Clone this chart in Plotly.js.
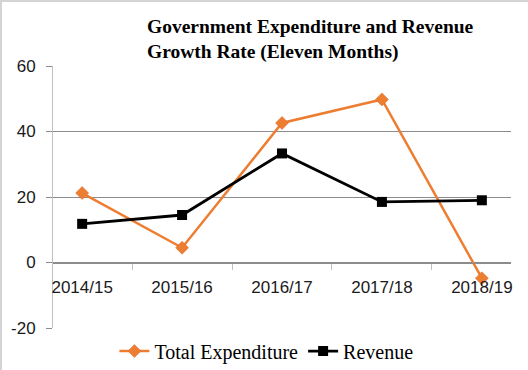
<!DOCTYPE html>
<html>
<head>
<meta charset="utf-8">
<script src="https://cdn.plot.ly/plotly-3.0.1.min.js"></script>
<style>
html, body { margin: 0; padding: 0; background: #fff; }
#wrap { width: 528px; height: 370px; box-sizing: border-box; border-left: 2px solid #d4d4d4; border-top: 2px solid #d4d4d4; overflow: hidden; position: relative; }
#chart { width: 528px; height: 370px; position: absolute; left: -2px; top: -2px; }
</style>
</head>
<body>
<div id="wrap"><div id="chart"></div></div>
<script>
const categories = ['2014/15', '2015/16', '2016/17', '2017/18', '2018/19'];
const totalExpenditure = [21.2, 4.5, 42.6, 49.8, -4.8];
const revenue = [11.8, 14.5, 33.3, 18.5, 19.0];
const yTicks = [-20, 0, 20, 40, 60];
const yTickLabels = ['-20', '0', '20', '40', '60'];

const traces = [
  {
    x: categories, y: totalExpenditure, name: 'Total Expenditure',
    type: 'scatter', mode: 'lines+markers',
    line: { color: '#ED7D31', width: 2.5 },
    marker: { symbol: 'diamond', size: 10, color: '#ED7D31', line: { color: '#D9682A', width: 0.5 } }
  },
  {
    x: categories, y: revenue, name: 'Revenue',
    type: 'scatter', mode: 'lines+markers',
    line: { color: '#000000', width: 2.8 },
    marker: { symbol: 'square', size: 10, color: '#000000' }
  }
];

const layout = {
  width: 528, height: 370,
  margin: { l: 53, r: 17, t: 66, b: 42, pad: 0, autoexpand: false },
  paper_bgcolor: 'rgba(0,0,0,0)', plot_bgcolor: 'rgba(0,0,0,0)',
  showlegend: true,
  title: {
    text: '<b>Government Expenditure and Revenue<br>Growth Rate (Eleven Months)</b>',
    font: { family: 'Liberation Serif', size: 19.5, color: '#000000' },
    xref: 'container', yref: 'container',
    x: 147 / 528, xanchor: 'left',
    y: 1 - 33 / 370, yanchor: 'top'
  },
  xaxis: {
    type: 'category',
    anchor: 'free', position: 0.25,
    showgrid: false, zeroline: false,
    showline: true, linecolor: '#8c8c8c', linewidth: 1,
    ticks: 'outside', tickson: 'boundaries', ticklen: 6, tickcolor: '#bfbfbf', tickwidth: 1,
    tickfont: { family: 'Liberation Sans', size: 17, color: '#1a1a1a' },
    ticklabelstandoff: 9,
    fixedrange: true
  },
  yaxis: {
    range: [-20, 60],
    tickmode: 'array',
    tickvals: yTicks,
    ticktext: yTickLabels,
    showgrid: true, gridcolor: '#8c8c8c', gridwidth: 1,
    zeroline: false,
    showline: true, linecolor: '#bfbfbf', linewidth: 1,
    ticks: 'outside', ticklen: 6, tickcolor: '#8c8c8c', tickwidth: 1,
    tickfont: { family: 'Liberation Sans', size: 17, color: '#1a1a1a' },
    ticklabelstandoff: 7,
    fixedrange: true
  },
  legend: {
    orientation: 'h',
    x: 0.466, xanchor: 'center',
    y: -0.088, yanchor: 'middle',
    font: { family: 'Liberation Serif', size: 20, color: '#000000' },
    bgcolor: 'rgba(0,0,0,0)'
  }
};

Plotly.newPlot('chart', traces, layout, { displayModeBar: false, staticPlot: true });
</script>
</body>
</html>
